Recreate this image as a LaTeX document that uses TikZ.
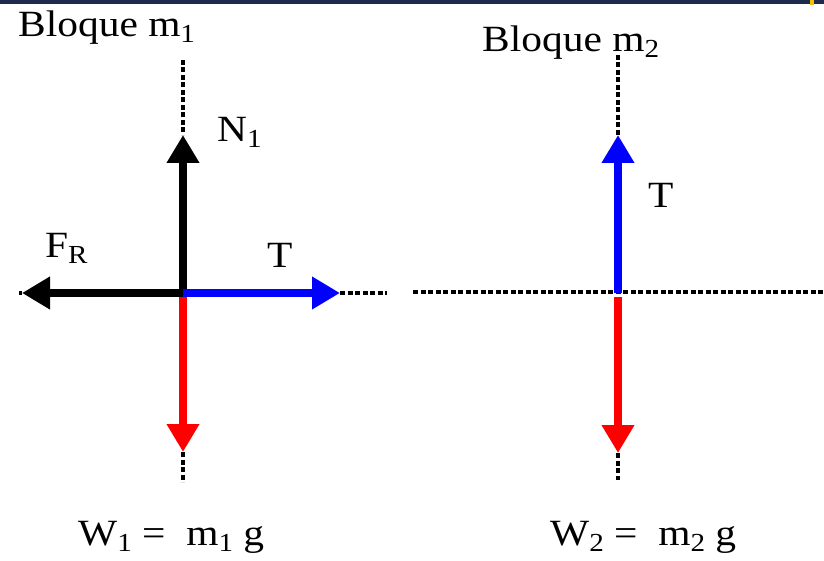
\documentclass[tikz,border=0pt]{standalone}
\usepackage{fontspec}
\setmainfont{Liberation Serif}
\usetikzlibrary{arrows.meta}
\definecolor{navybar}{HTML}{1F2B4D}
\definecolor{goldmark}{HTML}{F2C200}
\definecolor{vecblue}{HTML}{0000FF}
\definecolor{vecred}{HTML}{FF0000}
\newcommand{\lsub}[1]{\raisebox{-6pt}{\fontsize{26}{26}\selectfont #1}}
\newcommand{\wide}[1]{\scalebox{1.12}[1]{#1}}
\tikzset{
  lab/.style={font=\fontsize{37}{37}\selectfont, inner sep=0pt, anchor=base west},
  vec/.style={line width=8pt, -{Triangle[length=28pt,width=31pt]}},
  guide/.style={line width=3.2pt, dash pattern=on 5pt off 2.5pt}
}
\begin{document}
\begin{tikzpicture}[x=1pt,y=-1pt]
\useasboundingbox (0,0) rectangle (824,561);
\fill[white] (0,0) rectangle (824,561);
\fill[navybar] (0,0) rectangle (824,4);
\fill[goldmark] (810,0) rectangle (814,5);

% ---------- Block 1 ----------
\coordinate (O1) at (183,293);
\coordinate (N1tip) at (183,135);
\coordinate (FRtip) at (22,293);
\coordinate (T1tip) at (340,293);
\coordinate (W1start) at (183,297);
\coordinate (W1tip) at (183,452);
\coordinate (g1top) at (183,60);
\coordinate (g1bot) at (183,482);
\coordinate (g1left) at (19,293);
\coordinate (g1right) at (387,293);

\draw[guide] (g1top) -- (N1tip);
\draw[guide] (W1tip) -- (g1bot);
\draw[guide] (g1left) -- (FRtip);
\draw[guide] (T1tip) -- (g1right);

\draw[vec, vecred] (W1start) -- (W1tip);
\draw[vec, black] (183,297) -- (N1tip);
\draw[vec, black] (O1) -- (FRtip);
\draw[vec, vecblue] (O1) -- (T1tip);

\node[lab] (t1) at (18,37) {\wide{Bloque m\lsub{1}}};
\node[lab] (n1) at (217,142) {\wide{N\lsub{1}}};
\node[lab] (fr) at (45,258) {\wide{F\lsub{R}}};
\node[lab] (tl) at (267,268) {\wide{T}};
\node[lab] (w1) at (78,545) {\wide{W\lsub{1} =\ \ m\lsub{1} g}};

% ---------- Block 2 ----------
\coordinate (O2) at (618,293);
\coordinate (T2tip) at (618,135);
\coordinate (W2start) at (618,297);
\coordinate (W2tip) at (618,453);
\coordinate (g2top) at (618,55);
\coordinate (g2bot) at (618,480);
\coordinate (g2left) at (413,292);
\coordinate (g2right) at (824,292);

\draw[guide] (g2left) -- (g2right);
\draw[guide] (g2top) -- (T2tip);
\draw[guide] (W2tip) -- (g2bot);

\draw[vec, vecred] (W2start) -- (W2tip);
\draw[vec, vecblue] (O2) -- (T2tip);

\node[lab] (t2) at (482,52) {\wide{Bloque m\lsub{2}}};
\node[lab] (tr) at (648,208) {\wide{T}};
\node[lab] (w2) at (550,545) {\wide{W\lsub{2} =\ \ m\lsub{2} g}};
\end{tikzpicture}
\end{document}
